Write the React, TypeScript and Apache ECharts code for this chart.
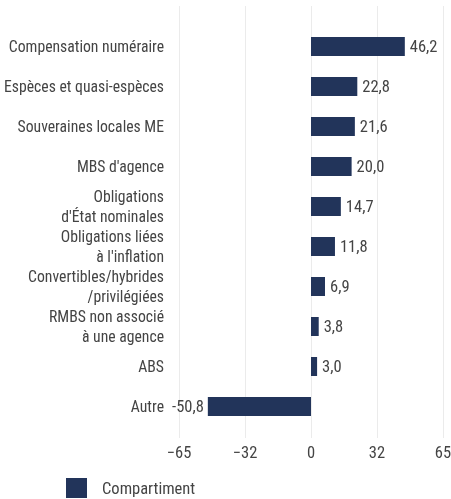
import React, { useEffect, useRef } from "react";
import * as echarts from "echarts";

const categories = [
  "Compensation numéraire",
  "Espèces et quasi-espèces",
  "Souveraines locales ME",
  "MBS d'agence",
  "Obligations\nd'État nominales",
  "Obligations liées\nà l'inflation",
  "Convertibles/hybrides\n/privilégiées",
  "RMBS non associé\nà une agence",
  "ABS",
  "Autre",
];
const values = [46.2, 22.8, 21.6, 20.0, 14.7, 11.8, 6.9, 3.8, 3.0, -50.8];
const seriesName = "Compartiment";
const axisMin = -65;
const axisMax = 65;
const axisInterval = 32.5;

const FONT = "'Roboto Condensed', 'DejaVu Sans Condensed', sans-serif";
const FS = 16.5;
const CAT_FS = 15.7;
const TEXT = "#444";
const BAR = "#22345a";

export default function App() {
  const ref = useRef<HTMLDivElement>(null);
  useEffect(() => {
    document.body.style.margin = "0";
    const chart = echarts.init(ref.current!, null, { renderer: "svg" });
    const fmt = (v: number) => v.toFixed(1).replace(".", ",");
    chart.setOption({
      animation: false,
      textStyle: { fontFamily: FONT, fontWeight: "normal" },
      legend: {
        left: 66,
        top: 478,
        padding: 0,
        icon: "rect",
        itemWidth: 21,
        itemHeight: 20,
        formatter: (n: string) => `{g|}{t|${n}}`,
        textStyle: {
          fontSize: FS,
          lineHeight: 20,
          color: TEXT,
          fontFamily: FONT,
          rich: {
            g: { width: 10, lineHeight: 20 },
            t: { fontSize: FS, lineHeight: 20, color: TEXT, fontFamily: FONT },
          },
        },
        data: [seriesName],
      },
      grid: [
        { left: 179, right: 8, top: 26.5, height: 400, outerBoundsMode: "none", containLabel: false },
        { left: 179, right: 8, top: 6, height: 432, outerBoundsMode: "none", containLabel: false },
      ],
      xAxis: [
        {
          gridIndex: 0,
          type: "value",
          min: axisMin,
          max: axisMax,
          interval: axisInterval,
          show: false,
        },
        {
          gridIndex: 1,
          type: "value",
          min: axisMin,
          max: axisMax,
          interval: axisInterval,
          axisLine: { show: false },
          axisTick: { show: false },
          splitLine: { show: true, lineStyle: { color: "#ebebeb", width: 1 } },
          axisLabel: {
            margin: 6,
            fontSize: FS,
            color: TEXT,
            fontFamily: FONT,
            formatter: (v: number) => (v < 0 ? "\u2212" : "") + Math.abs(Math.trunc(v)),
          },
        },
      ],
      yAxis: [
        {
          gridIndex: 0,
          type: "category",
          inverse: true,
          data: categories,
          axisLine: { show: false },
          axisTick: { show: false },
          splitLine: { show: false },
          axisLabel: {
            margin: 15,
            fontSize: CAT_FS,
            lineHeight: 19.5,
            color: TEXT,
            fontFamily: FONT,
          },
        },
        { gridIndex: 1, type: "value", min: 0, max: 1, show: false },
      ],
      series: [
        {
          name: seriesName,
          type: "bar",
          xAxisIndex: 0,
          yAxisIndex: 0,
          barWidth: 19,
          itemStyle: { color: BAR },
          label: {
            show: true,
            position: "right",
            distance: 5,
            fontSize: FS,
            color: TEXT,
            fontFamily: FONT,
            formatter: (p: any) => fmt(p.value),
          },
          data: values.map((v) =>
            v < 0 ? { value: v, label: { position: "left", distance: 4 } } : { value: v }
          ),
        },
      ],
    });
    return () => chart.dispose();
  }, []);
  return (
    <div
      ref={ref}
      style={{ position: "fixed", left: 0, top: 0, width: 451, height: 499 }}
    />
  );
}
